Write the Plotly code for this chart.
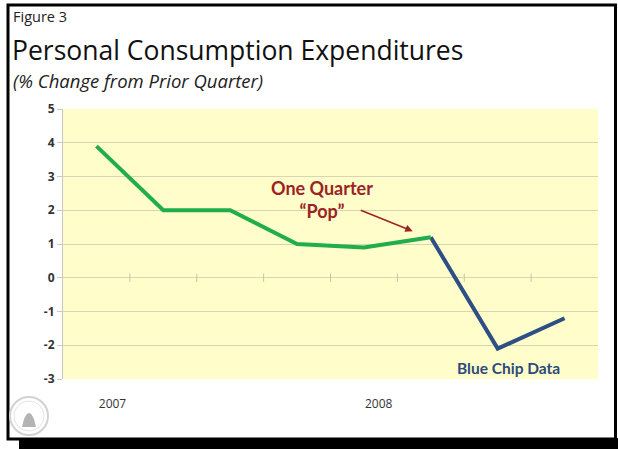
import plotly.graph_objects as go

# Quarterly PCE, % change from prior quarter
quarters = ["2007 Q1", "2007 Q2", "2007 Q3", "2007 Q4",
            "2008 Q1", "2008 Q2", "2008 Q3", "2008 Q4"]
actual = [3.9, 2.0, 2.0, 1.0, 0.9, 1.2]          # reported quarters
blue_chip = [1.2, -2.1, -1.2]                     # Blue Chip consensus, from 2008 Q2
year_labels = ["2007", "2008"]
year_label_pos = [0.24, 4.22]                     # where the year labels sit along the axis
y_ticks = [-3, -2, -1, 0, 1, 2, 3, 4, 5]
y_tick_text = [str(v) for v in y_ticks]

W, H = 618, 449
L, R, T, B = 63, 20, 109, 70
pw, ph = W - L - R, H - T - B

def px(x):
    return (x - L) / pw

def py(y):
    return (H - B - y) / ph

x_idx = list(range(len(quarters)))
x_actual = x_idx[:len(actual)]
x_blue = x_idx[len(actual) - 1:len(actual) - 1 + len(blue_chip)]

fig = go.Figure()

# small tick marks on the zero line between quarters
fig.add_trace(go.Scatter(
    x=[i + 0.5 for i in x_idx[:-1]], y=[0] * (len(quarters) - 1),
    mode="markers", marker=dict(symbol="line-ns-open", size=6, color="#c9c4a8",
                                line=dict(color="#c9c4a8", width=1)),
    hoverinfo="skip", showlegend=False))

fig.add_trace(go.Scatter(
    x=x_blue, y=blue_chip, mode="lines",
    line=dict(color="#2e4f86", width=4), showlegend=False,
    text=quarters[x_blue[0]:], hovertemplate="%{text}: %{y}<extra></extra>"))

fig.add_trace(go.Scatter(
    x=x_actual, y=actual, mode="lines",
    line=dict(color="#1fae4b", width=4), showlegend=False,
    text=quarters[:len(actual)], hovertemplate="%{text}: %{y}<extra></extra>"))

shapes = [
    # outer frame with a drop shadow along the bottom
    dict(type="rect", xref="paper", yref="paper",
         x0=px(19), x1=px(618), y0=py(449), y1=py(438),
         fillcolor="black", line=dict(width=0), layer="below"),
    dict(type="rect", xref="paper", yref="paper",
         x0=px(8), x1=px(615.5), y0=py(439), y1=py(5),
         fillcolor="rgba(0,0,0,0)", line=dict(color="black", width=3)),
    # seal in the lower-left corner
    dict(type="circle", xref="paper", yref="paper",
         x0=px(10), x1=px(48), y0=py(435), y1=py(397),
         fillcolor="rgba(0,0,0,0)", line=dict(color="#d2d2d2", width=2)),
    dict(type="circle", xref="paper", yref="paper",
         x0=px(14), x1=px(44), y0=py(431), y1=py(401),
         fillcolor="rgba(0,0,0,0)", line=dict(color="#e4e4e4", width=1)),
    dict(type="path", xref="paper", yref="paper",
         path=f"M {px(22)} {py(427)} L {px(36)} {py(427)} L {px(34)} {py(419)} "
              f"Q {px(29)} {py(407)} {px(24)} {py(419)} Z",
         fillcolor="#b4b4b4", line=dict(width=0)),
]

annotations = [
    dict(text="Figure 3", xref="paper", yref="paper", x=px(11), y=py(17),
         xanchor="left", yanchor="middle", showarrow=False,
         font=dict(family="Open Sans", size=14.5, color="#222")),
    dict(text="Personal Consumption Expenditures", xref="paper", yref="paper",
         x=px(10), y=py(50), xanchor="left", yanchor="middle", showarrow=False,
         font=dict(family="Open Sans", size=26.5, color="#111")),
    dict(text="<i>(% Change from Prior Quarter)</i>", xref="paper", yref="paper",
         x=px(11), y=py(80), xanchor="left", yanchor="middle", showarrow=False,
         font=dict(family="Open Sans", size=18.5, color="#222")),
    dict(text="<b>One Quarter<br>\u201cPop\u201d</b>", x=3.37, y=2.32,
         xanchor="center", yanchor="middle", showarrow=False,
         font=dict(family="Lato", size=18, color="#9b2326")),
    dict(text="", x=4.73, y=1.38, ax=3.93, ay=2.02, axref="x", ayref="y",
         showarrow=True, arrowhead=2, arrowsize=1, arrowwidth=1.5,
         arrowcolor="#9b2326"),
    dict(text="<b>Blue Chip Data</b>", x=6.16, y=-2.68,
         xanchor="center", yanchor="middle", showarrow=False,
         font=dict(family="Lato", size=15.5, color="#2b4a7e")),
]

fig.update_layout(
    width=W, height=H,
    margin=dict(l=L, r=R, t=T, b=B),
    paper_bgcolor="white", plot_bgcolor="#fffdc9",
    shapes=shapes, annotations=annotations,
    xaxis=dict(range=[-0.5, 7.5], tickvals=year_label_pos, ticktext=year_labels,
               showgrid=False, zeroline=False, showline=False, ticks="",
               ticklabelstandoff=16,
               tickfont=dict(family="Open Sans", size=12, color="#333")),
    yaxis=dict(range=[-3, 5], tickvals=y_ticks, ticktext=y_tick_text,
               showgrid=True, gridcolor="#d9d4b4", gridwidth=1, zeroline=False,
               showline=True, linecolor="#c8c8c8", linewidth=1,
               ticks="outside", ticklen=5, tickcolor="#c8c8c8",
               tickfont=dict(family="Open Sans", size=12, color="#333",
                             weight="bold")),
)

fig.write_html("out.html")
